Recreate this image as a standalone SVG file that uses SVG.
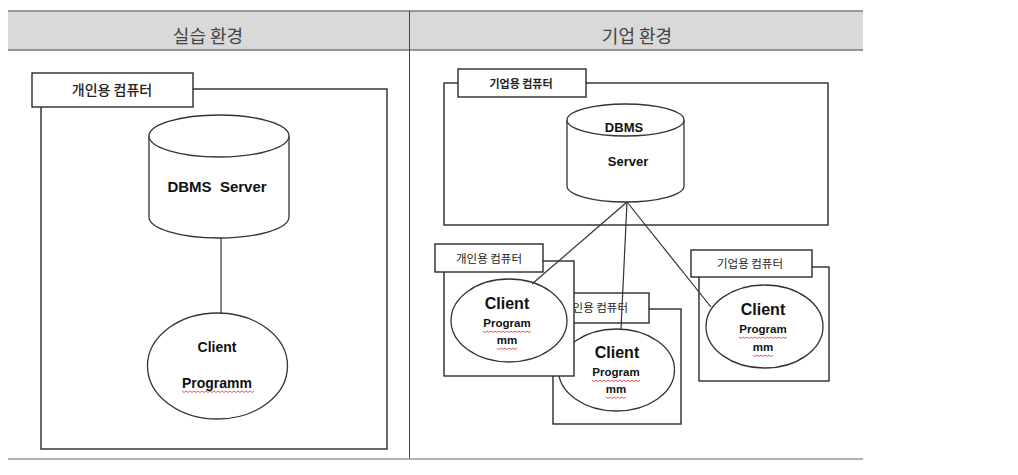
<svg xmlns="http://www.w3.org/2000/svg" width="1018" height="475" viewBox="0 0 1018 475">
<style>
.box{fill:#fff;stroke:#2a2a2a;stroke-width:1.4}
.shape{fill:#fff;stroke:#333;stroke-width:1.3}
.ko{font-family:"Noto Sans CJK KR","Noto Sans",sans-serif;fill:#222;text-anchor:middle}
.en{font-family:"Liberation Sans",Arial,sans-serif;font-weight:bold;fill:#111;text-anchor:middle}
.hdr{font-family:"Noto Sans CJK KR","Noto Sans",sans-serif;font-size:18px;fill:#444;text-anchor:middle}
.sq{fill:none;stroke:#e03030;stroke-width:0.8}
.conn{stroke:#333;stroke-width:1.2;fill:none}
</style>
<rect width="1018" height="475" fill="#fff"/>
<g id="frame">
<rect x="8" y="11" width="855" height="39" fill="#d9d9d9"/>
<line x1="8" y1="11" x2="863" y2="11" stroke="#999" stroke-width="2"/>
<line x1="8" y1="50" x2="863" y2="50" stroke="#777" stroke-width="1.5"/>
<line x1="409.5" y1="11" x2="409.5" y2="459" stroke="#444" stroke-width="1"/>
<line x1="8" y1="459" x2="863" y2="459" stroke="#999" stroke-width="1.5"/>
<text class="hdr" x="208" y="43">실습 환경</text>
<text class="hdr" x="637" y="43">기업 환경</text>
</g>

<g id="left-pc">
<rect class="box" x="41" y="89" width="346" height="360"/>
<rect class="box" x="32" y="73" width="161" height="34"/>
<text class="ko" x="112" y="95" font-size="14" font-weight="500">개인용 컴퓨터</text>
</g>
<g id="left-dbms">
<path class="shape" d="M149,136 L149,217 A70,21 0 0 0 289,217 L289,136 A70,21 0 0 0 149,136 Z"/>
<path class="shape" d="M149,136 A70,21 0 0 0 289,136"/>
<text class="en" x="217" y="192" font-size="15" style="white-space:pre">DBMS  Server</text>
</g>
<g id="left-client">
<ellipse class="shape" cx="217.5" cy="366" rx="70" ry="53"/>
<text class="en" x="217" y="352" font-size="14">Client</text>
<text class="en" x="217" y="388" font-size="14">Programm</text>
</g>

<g id="ent-server">
<rect class="box" x="444" y="83" width="384" height="142"/>
<rect class="box" x="458" y="69" width="128" height="28"/>
<text class="ko" x="521" y="88" font-size="11" font-weight="bold">기업용 컴퓨터</text>
<path class="shape" d="M567,120 L567,186 A58.5,16 0 0 0 684,186 L684,120 A58.5,16 0 0 0 567,120 Z"/>
<path class="shape" d="M567,120 A58.5,16 0 0 0 684,120"/>
<text class="en" x="624" y="132" font-size="13">DBMS</text>
<text class="en" x="628" y="166" font-size="13">Server</text>
</g>

<g id="client-mid">
<rect class="box" x="553" y="309" width="128" height="115"/>
<rect class="box" x="541" y="293" width="108" height="30"/>
<text class="ko" x="595" y="312" font-size="11.5">개인용 컴퓨터</text>
<ellipse class="shape" cx="616.5" cy="370" rx="58" ry="41"/>
<text class="en" x="617" y="358" font-size="16">Client</text>
<text class="en" x="616" y="376" font-size="11.5">Program</text>
<text class="en" x="616" y="393" font-size="11.5">mm</text>
</g>

<g id="client-left">
<rect class="box" x="444" y="261" width="130" height="115"/>
<rect class="box" x="435" y="244" width="108" height="28"/>
<text class="ko" x="489" y="263" font-size="11.5">개인용 컴퓨터</text>
<ellipse class="shape" cx="509" cy="320.5" rx="58" ry="41.5"/>
<text class="en" x="507" y="309" font-size="16">Client</text>
<text class="en" x="507" y="327" font-size="11.5">Program</text>
<text class="en" x="507" y="344" font-size="11.5">mm</text>
</g>

<g id="client-right">
<rect class="box" x="699" y="267" width="130" height="114"/>
<rect class="box" x="691" y="250" width="121" height="27"/>
<text class="ko" x="750" y="268" font-size="11.5">기업용 컴퓨터</text>
<ellipse class="shape" cx="764.5" cy="326.5" rx="58.5" ry="41.5"/>
<text class="en" x="763" y="315" font-size="16">Client</text>
<text class="en" x="763" y="333" font-size="11.5">Program</text>
<text class="en" x="763" y="351" font-size="11.5">mm</text>
</g>

<g id="squiggles" class="sq">
<path d="M182,391 l2,1.5 l2,-1.5 l2,1.5 l2,-1.5 l2,1.5 l2,-1.5 l2,1.5 l2,-1.5 l2,1.5 l2,-1.5 l2,1.5 l2,-1.5 l2,1.5 l2,-1.5 l2,1.5 l2,-1.5 l2,1.5 l2,-1.5 l2,1.5 l2,-1.5 l2,1.5 l2,-1.5 l2,1.5 l2,-1.5 l2,1.5 l2,-1.5 l2,1.5 l2,-1.5 l2,1.5 l2,-1.5 l2,1.5 l2,-1.5 l2,1.5 l2,-1.5 l2,1.5 l2,-1.5"/>
<path d="M483,331 l2,1.5 l2,-1.5 l2,1.5 l2,-1.5 l2,1.5 l2,-1.5 l2,1.5 l2,-1.5 l2,1.5 l2,-1.5 l2,1.5 l2,-1.5 l2,1.5 l2,-1.5 l2,1.5 l2,-1.5 l2,1.5 l2,-1.5 l2,1.5 l2,-1.5 l2,1.5 l2,-1.5 l2,1.5 l2,-1.5"/>
<path d="M497,348 l2,1.5 l2,-1.5 l2,1.5 l2,-1.5 l2,1.5 l2,-1.5 l2,1.5 l2,-1.5 l2,1.5 l2,-1.5"/>
<path d="M592,380 l2,1.5 l2,-1.5 l2,1.5 l2,-1.5 l2,1.5 l2,-1.5 l2,1.5 l2,-1.5 l2,1.5 l2,-1.5 l2,1.5 l2,-1.5 l2,1.5 l2,-1.5 l2,1.5 l2,-1.5 l2,1.5 l2,-1.5 l2,1.5 l2,-1.5 l2,1.5 l2,-1.5 l2,1.5 l2,-1.5"/>
<path d="M606,397 l2,1.5 l2,-1.5 l2,1.5 l2,-1.5 l2,1.5 l2,-1.5 l2,1.5 l2,-1.5 l2,1.5 l2,-1.5"/>
<path d="M739,337 l2,1.5 l2,-1.5 l2,1.5 l2,-1.5 l2,1.5 l2,-1.5 l2,1.5 l2,-1.5 l2,1.5 l2,-1.5 l2,1.5 l2,-1.5 l2,1.5 l2,-1.5 l2,1.5 l2,-1.5 l2,1.5 l2,-1.5 l2,1.5 l2,-1.5 l2,1.5 l2,-1.5 l2,1.5 l2,-1.5"/>
<path d="M753,355 l2,1.5 l2,-1.5 l2,1.5 l2,-1.5 l2,1.5 l2,-1.5 l2,1.5 l2,-1.5 l2,1.5 l2,-1.5"/>
</g>

<g id="connectors" class="conn">
<line x1="221" y1="238" x2="221" y2="313"/>
<line x1="627" y1="202" x2="532" y2="284"/>
<line x1="627" y1="202" x2="621" y2="329"/>
<line x1="627" y1="202" x2="711" y2="307"/>
</g>
</svg>
